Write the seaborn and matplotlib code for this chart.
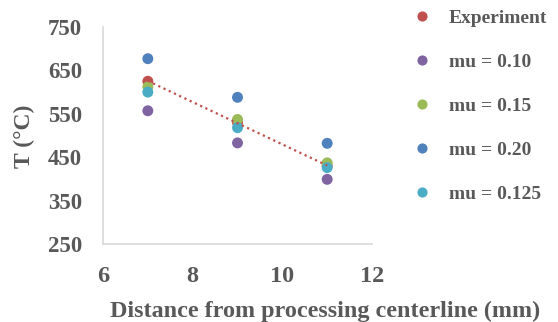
import matplotlib
matplotlib.use("Agg")
import matplotlib.pyplot as plt
import seaborn as sns
import pandas as pd

# distances (mm) and temperatures (deg C)
distance = [7, 9, 11]
experiment = [625, 530, 430]
mu_010 = [557, 483, 399]
mu_015 = [612, 537, 437]
mu_020 = [677, 588, 482]
mu_0125 = [600, 518, 426]

series_names = ["Experiment", "mu = 0.10", "mu = 0.15", "mu = 0.20", "mu = 0.125"]
series_values = [experiment, mu_010, mu_015, mu_020, mu_0125]
colors = ["#C0504D", "#8064A2", "#9BBB59", "#4F81BD", "#4BACC6"]

x_ticks = [6, 8, 10, 12]
y_ticks = [250, 350, 450, 550, 650, 750]

rows = []
for name, vals in zip(series_names, series_values):
    for d, t in zip(distance, vals):
        rows.append({"distance": d, "T": t, "series": name})
df = pd.DataFrame(rows)

sns.set_style("white")
text_col = "#595959"
serif = "Liberation Serif"

fig = plt.figure(figsize=(5.58, 3.22), dpi=100)
ax = fig.add_axes([0.1846, 0.2422, 0.4821, 0.6739])

sns.scatterplot(data=df, x="distance", y="T", hue="series", hue_order=series_names,
                palette=colors, s=62, linewidth=0, ax=ax, legend=False)

exp_df = df[df["series"] == "Experiment"]
sns.regplot(data=exp_df, x="distance", y="T", scatter=False, ci=None, ax=ax,
            line_kws={"color": "#C0504D", "linestyle": (0, (1, 1.6)), "linewidth": 1.6, "zorder": 5})

ax.set_xlim(6, 12)
ax.set_ylim(250, 750)
ax.set_xticks(x_ticks)
ax.set_yticks(y_ticks)
ax.set_xlabel("")
ax.set_ylabel("")
for lab in ax.get_xticklabels():
    lab.set_family(serif)
    lab.set_fontweight("bold")
    lab.set_color(text_col)
    lab.set_fontsize(17.5)
for lab in ax.get_yticklabels():
    lab.set_family(serif)
    lab.set_fontweight("bold")
    lab.set_color(text_col)
    lab.set_fontsize(16.5)
ax.tick_params(axis="x", length=0, pad=16)
ax.tick_params(axis="y", length=0, pad=15)
for side in ["top", "right"]:
    ax.spines[side].set_visible(False)
for side in ["left", "bottom"]:
    ax.spines[side].set_color("#D9D9D9")
    ax.spines[side].set_linewidth(1.2)

fig.text(24 / 558, 1 - 136 / 322, "T (°C)", rotation=90, family=serif,
         fontweight="bold", fontsize=17, color=text_col, ha="center", va="center")

fig.text(110 / 558, 1 - 316.5 / 322, "Distance from processing centerline (mm)",
         family=serif, fontweight="bold", fontsize=17.4, color=text_col,
         ha="left", va="baseline")

handles = [plt.Line2D([], [], marker="o", linestyle="", markersize=7.3,
                      markerfacecolor=c, markeredgewidth=0) for c in colors]
fig.legend(handles, series_names, loc="upper left", bbox_to_anchor=(412 / 558, 1 - 9 / 322),
           frameon=False, borderpad=0, borderaxespad=0, labelspacing=1.36,
           handletextpad=0.9, handlelength=1.0,
           prop={"family": serif, "weight": "bold", "size": 14},
           labelcolor=text_col)

fig.savefig("out.png", dpi=100)
